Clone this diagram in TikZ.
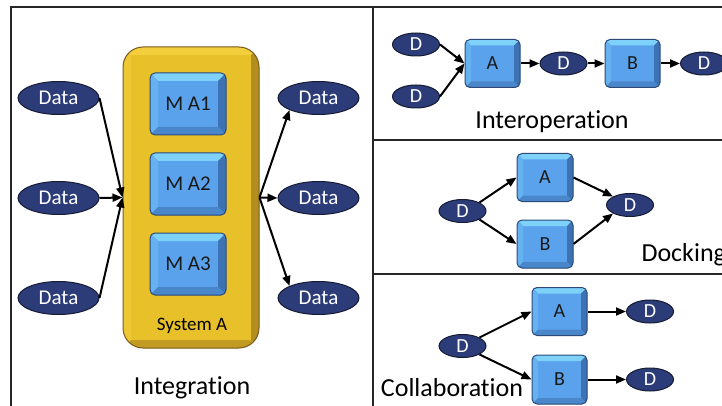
\documentclass[tikz,border=0pt]{standalone}
\usepackage{fontspec}
\setmainfont{Carlito}[Ligatures=NoCommon]
\usepackage{xcolor}
\usepackage{tikz}
\usetikzlibrary{shapes.geometric,arrows.meta}

\definecolor{boxface}{HTML}{5AA3EC}
\definecolor{boxtop}{HTML}{7ED2FA}
\definecolor{boxleft}{HTML}{66B2F1}
\definecolor{boxright}{HTML}{3D72B5}
\definecolor{boxbot}{HTML}{4A86CA}
\definecolor{boxline}{HTML}{2B4A78}
\definecolor{sysface}{HTML}{E8C12A}
\definecolor{systop}{HTML}{F3CF3D}
\definecolor{sysleft}{HTML}{EEC734}
\definecolor{sysright}{HTML}{B38D1E}
\definecolor{sysbot}{HTML}{C29B22}
\definecolor{sysline}{HTML}{7A5A20}
\definecolor{datafill}{HTML}{2C3C78}
\definecolor{dataline}{HTML}{151B33}

% bevel: depth, top, left, right, bottom
\newcommand{\facets}[5]{%
  \def\pb{path picture bounding box}%
  \fill[#2,sharp corners] (\pb.north west) -- (\pb.north east)
    -- ([shift={(-#1,-#1)}]\pb.north east) -- ([shift={(#1,-#1)}]\pb.north west) -- cycle;
  \fill[#3,sharp corners] (\pb.north west) -- ([shift={(#1,-#1)}]\pb.north west)
    -- ([shift={(#1,#1)}]\pb.south west) -- (\pb.south west) -- cycle;
  \fill[#4,sharp corners] (\pb.north east) -- ([shift={(-#1,-#1)}]\pb.north east)
    -- ([shift={(-#1,#1)}]\pb.south east) -- (\pb.south east) -- cycle;
  \fill[#5,sharp corners] (\pb.south west) -- ([shift={(#1,#1)}]\pb.south west)
    -- ([shift={(-#1,#1)}]\pb.south east) -- (\pb.south east) -- cycle;
}

\tikzset{
  blk/.style={draw=boxline, line width=1pt, fill=boxface, rounded corners=5pt,
    inner sep=0pt, text=black!90, font=\fontsize{20}{20}\selectfont,
    path picture={\facets{#1}{boxtop}{boxleft}{boxright}{boxbot}}},
  blk/.default=8pt,
  sysbox/.style={draw=sysline, line width=1pt, fill=sysface, rounded corners=20pt,
    inner sep=0pt,
    path picture={\facets{8pt}{systop}{sysleft}{sysright}{sysbot}}},
  data/.style={ellipse, draw=dataline, line width=1pt, fill=datafill, text=white,
    inner sep=0pt, minimum width=81pt, minimum height=33pt,
    font=\fontsize{21}{21}\selectfont},
  dsm/.style={data, minimum width=47pt, minimum height=23pt,
    font=\fontsize{20}{20}\selectfont},
  arr/.style={-{Triangle[length=10pt,width=8pt]}, line width=2pt, black},
  frame/.style={line width=2pt, draw=black!85},
  ptitle/.style={font=\fontsize{26}{26}\selectfont}
}

\begin{document}
\begin{tikzpicture}[x=1pt,y=-1pt]
  \clip (0,0) rectangle (722,406);
  % panel frames
  \draw[frame] (11,420) -- (11,7) -- (730,7);
  \draw[frame] (373,7) -- (373,420);
  \draw[frame] (373,140) -- (730,140);
  \draw[frame] (373,274) -- (730,274);

  % integration
  \node[sysbox, minimum width=136pt, minimum height=301pt] (sysA) at (191,197.5) {};
  \node[font=\fontsize{19}{19}\selectfont] (sysAlbl) at (192,326) {System A};
  \foreach \i/\y in {1/104,2/184,3/264}
    {\node[blk, minimum width=76pt, minimum height=62pt, font=\fontsize{21}{21}\selectfont]
      (ma\i) at (188,\y) {M A\i};}
  \foreach \i/\y in {1/98,2/198,3/298} {
    \node[data] (in\i) at (58.5,\y) {Data};
    \node[data] (out\i) at (318.5,\y) {Data};
    \draw[arr] (in\i.east) -- (sysA.west);
  }
  \draw[arr] (sysA.east) -- (out1.south west);
  \draw[arr] (sysA.east) -- (out2.west);
  \draw[arr] (sysA.east) -- (out3.north west);
  \node[ptitle] (integ) at (192,388) {Integration};

  % interoperation
  \node[dsm] (ioD1) at (416,44.5) {D};
  \node[dsm] (ioD2) at (416,96.5) {D};
  \node[blk=6pt, minimum width=55pt, minimum height=48pt] (ioA) at (492.5,63.5) {A};
  \node[dsm] (ioD3) at (563.5,63.5) {D};
  \node[blk=6pt, minimum width=55pt, minimum height=48pt] (ioB) at (632.5,63.5) {B};
  \node[dsm] (ioD4) at (704,63.5) {D};
  \draw[arr] (ioD1.east) -- (ioA.west);
  \draw[arr] (ioD2.east) -- (ioA.west);
  \draw[arr] (ioA.east) -- (ioD3.west);
  \draw[arr] (ioD3.east) -- (ioB.west);
  \draw[arr] (ioB.east) -- (ioD4.west);
  \node[ptitle] (interop) at (552,122) {Interoperation};

  % docking
  \node[dsm] (dkD1) at (462.5,211) {D};
  \node[blk=6pt, minimum width=56pt, minimum height=48pt] (dkA) at (545,177.5) {A};
  \node[blk=6pt, minimum width=56pt, minimum height=48pt] (dkB) at (545,244) {B};
  \node[dsm] (dkD2) at (630,205) {D};
  \draw[arr] (dkD1.north east) -- (dkA.west);
  \draw[arr] (dkD1.south east) -- (dkB.west);
  \draw[arr] (dkA.east) -- (dkD2.north west);
  \draw[arr] (dkB.east) -- (dkD2.south west);
  \node[ptitle, anchor=west] (dock) at (638,255) {Docking};

  % collaboration
  \node[dsm] (clD) at (462.5,346) {D};
  \node[blk=6pt, minimum width=55pt, minimum height=48pt] (clA) at (559.5,311.5) {A};
  \node[blk=6pt, minimum width=55pt, minimum height=49pt] (clB) at (559.5,379.5) {B};
  \node[dsm] (clD1) at (650,311.5) {D};
  \node[dsm] (clD2) at (650,379.5) {D};
  \draw[arr] (clD.north east) -- (clA.west);
  \draw[arr] (clD.south east) -- (clB.west);
  \draw[arr] (clA.east) -- (clD1.west);
  \draw[arr] (clB.east) -- (clD2.west);
  \node[ptitle] (collab) at (452,388) {Collaboration};
\end{tikzpicture}
\end{document}
